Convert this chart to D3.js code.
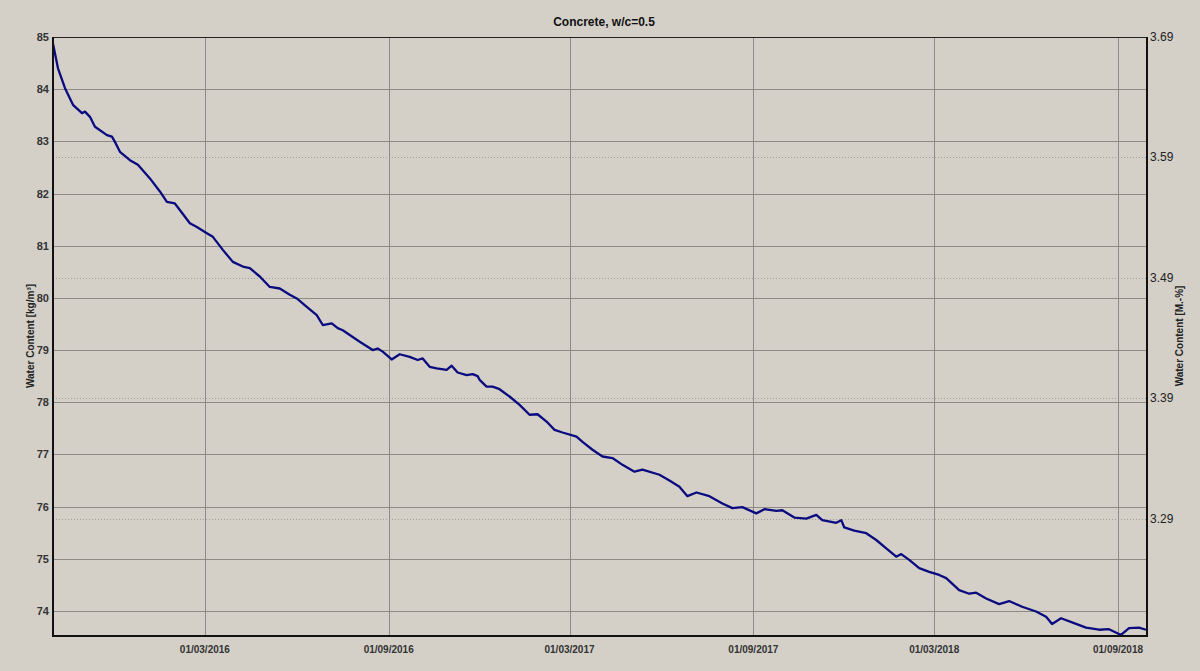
<!DOCTYPE html>
<html>
<head>
<meta charset="utf-8">
<script src="https://cdn.jsdelivr.net/npm/d3@7/dist/d3.min.js"></script>
<style>
  body { margin: 0; background: #d4d0c8; }
  svg { display: block; }
</style>
</head>
<body>
<div id="chart"></div>
<script>
var dates = [
  "2015-10-01","2015-10-06","2015-10-13","2015-10-21","2015-10-30","2015-11-02","2015-11-07","2015-11-12",
  "2015-11-24","2015-11-29","2015-12-02","2015-12-07","2015-12-17","2015-12-25","2016-01-06","2016-01-16",
  "2016-01-23","2016-01-31","2016-02-15","2016-02-22","2016-03-03","2016-03-09","2016-03-19","2016-03-29",
  "2016-04-08","2016-04-15","2016-04-25","2016-05-05","2016-05-15","2016-05-25","2016-06-01","2016-06-11",
  "2016-06-21","2016-06-27","2016-07-06","2016-07-12","2016-07-17","2016-08-03","2016-08-16","2016-08-21",
  "2016-08-26","2016-09-04","2016-09-12","2016-09-22","2016-09-30","2016-10-05","2016-10-12","2016-10-19",
  "2016-10-29","2016-11-03","2016-11-09","2016-11-18","2016-11-24","2016-11-29","2016-12-01","2016-12-08",
  "2016-12-14","2016-12-21","2016-12-31","2017-01-10","2017-01-20","2017-01-28","2017-02-06","2017-02-14",
  "2017-02-22","2017-03-08","2017-03-14","2017-03-24","2017-04-03","2017-04-13","2017-04-23","2017-05-05",
  "2017-05-13","2017-05-30","2017-06-09","2017-06-19","2017-06-27","2017-07-06","2017-07-19","2017-08-01",
  "2017-08-11","2017-08-21","2017-09-04","2017-09-12","2017-09-24","2017-09-30","2017-10-12","2017-10-24",
  "2017-11-03","2017-11-09","2017-11-23","2017-11-28","2017-12-01","2017-12-11","2017-12-23","2018-01-02",
  "2018-01-12","2018-01-22","2018-01-27","2018-02-04","2018-02-14","2018-02-24","2018-03-06","2018-03-13",
  "2018-03-26","2018-04-05","2018-04-12","2018-04-22","2018-05-05","2018-05-15","2018-05-28","2018-06-11",
  "2018-06-21","2018-06-27","2018-07-06","2018-07-17","2018-07-31","2018-08-13","2018-08-23","2018-09-04",
  "2018-09-12","2018-09-22","2018-09-29"
]

// water content, kg/m3
var water = [
  84.87,84.40,84.02,83.70,83.54,83.57,83.47,83.28,
  83.12,83.09,82.99,82.80,82.64,82.55,82.29,82.04,
  81.84,81.81,81.43,81.36,81.24,81.17,80.92,80.69,
  80.60,80.57,80.41,80.21,80.18,80.06,79.99,79.83,
  79.67,79.48,79.51,79.42,79.38,79.16,79.00,79.03,
  78.97,78.82,78.92,78.87,78.81,78.84,78.68,78.65,
  78.62,78.70,78.57,78.52,78.54,78.50,78.43,78.30,
  78.30,78.25,78.11,77.95,77.76,77.77,77.63,77.47,
  77.42,77.34,77.24,77.09,76.96,76.93,76.80,76.67,
  76.71,76.61,76.50,76.38,76.20,76.27,76.20,76.06,
  75.97,75.99,75.87,75.95,75.92,75.93,75.79,75.77,
  75.84,75.74,75.69,75.74,75.60,75.54,75.49,75.36,
  75.20,75.04,75.09,74.98,74.82,74.75,74.69,74.63,
  74.40,74.33,74.35,74.24,74.13,74.19,74.08,73.99,
  73.89,73.75,73.86,73.78,73.68,73.64,73.65,73.54,
  73.67,73.68,73.64
]

var leftTicks = [74, 75, 76, 77, 78, 79, 80, 81, 82, 83, 84, 85]
var rightTicks = [3.29, 3.39, 3.49, 3.59, 3.69]
var xTicks = ["2016-03-01", "2016-09-01", "2017-03-01", "2017-09-01", "2018-03-01", "2018-09-01"]

var title = "Concrete, w/c=0.5"
var leftLabel = "Water Content [kg/m\u00b3]"
var rightLabel = "Water Content [M.-%]"

var width = 1200, height = 671
var margin = {top: 37, right: 53, bottom: 35, left: 53}
var parse = d3.timeParse("%Y-%m-%d")

var data = dates.map(function(d, i) { return {date: parse(d), v: water[i]} })

var svg = d3.select("#chart").append("svg")
    .attr("width", width)
    .attr("height", height)
    .style("font-family", "Arial, 'Liberation Sans', sans-serif")

svg.append("rect")
  .attr("width", width).attr("height", height)
  .attr("fill", "#d4d0c8")

var x = d3.scaleTime()
  .domain([parse("2015-10-01"), parse("2018-09-30")])
  .range([margin.left, width - margin.right])

var y = d3.scaleLinear()
  .domain([73.52, 85])
  .range([height - margin.bottom, margin.top])

var y2 = d3.scaleLinear()
  .domain([3.1925, 3.69])
  .range([height - margin.bottom, margin.top])

var x0 = margin.left, x1 = width - margin.right
var yb = height - margin.bottom, yt = margin.top

// dotted grid from right axis
svg.append("g").selectAll("line")
  .data(rightTicks)
  .enter().append("line")
  .attr("x1", x0).attr("x2", x1)
  .attr("y1", function(d) { return Math.round(y2(d)) + 0.5 })
  .attr("y2", function(d) { return Math.round(y2(d)) + 0.5 })
  .attr("stroke", "#a19e98")
  .attr("stroke-dasharray", "1,2")

// solid grid
svg.append("g").selectAll("line")
  .data(leftTicks)
  .enter().append("line")
  .attr("x1", x0).attr("x2", x1)
  .attr("y1", function(d) { return Math.round(y(d)) + 0.5 })
  .attr("y2", function(d) { return Math.round(y(d)) + 0.5 })
  .attr("stroke", "#8e8b86")

svg.append("g").selectAll("line")
  .data(xTicks)
  .enter().append("line")
  .attr("x1", function(d) { return Math.round(x(parse(d))) + 0.5 })
  .attr("x2", function(d) { return Math.round(x(parse(d))) + 0.5 })
  .attr("y1", yt).attr("y2", yb)
  .attr("stroke", "#8e8b86")

// line
var line = d3.line()
  .x(function(d) { return x(d.date) })
  .y(function(d) { return y(d.v) })

svg.append("path")
  .datum(data)
  .attr("d", line)
  .attr("fill", "none")
  .attr("stroke", "#0b0b80")
  .attr("stroke-width", 2.3)
  .attr("stroke-linejoin", "round")

// frame
svg.append("line").attr("x1", x0).attr("x2", x1).attr("y1", yt + 0.5).attr("y2", yt + 0.5)
  .attr("stroke", "#222").attr("stroke-width", 1)
svg.append("line").attr("x1", x0).attr("x2", x0).attr("y1", yt).attr("y2", yb + 1)
  .attr("stroke", "#111").attr("stroke-width", 2)
svg.append("line").attr("x1", x1).attr("x2", x1).attr("y1", yt).attr("y2", yb + 1)
  .attr("stroke", "#111").attr("stroke-width", 2)
svg.append("line").attr("x1", x0).attr("x2", x1).attr("y1", yb).attr("y2", yb)
  .attr("stroke", "#111").attr("stroke-width", 2)

// axes tick labels
svg.append("g").selectAll("text")
  .data(leftTicks)
  .enter().append("text")
  .attr("x", x0 - 4)
  .attr("y", function(d) { return y(d) + 4 })
  .attr("text-anchor", "end")
  .style("font-size", "11px")
  .style("font-weight", "bold")
  .attr("fill", "#333")
  .text(function(d) { return d })

svg.append("g").selectAll("text")
  .data(rightTicks)
  .enter().append("text")
  .attr("x", x1 + 3)
  .attr("y", function(d) { return y2(d) + 4 })
  .attr("text-anchor", "start")
  .style("font-size", "12px")
  .attr("fill", "#222")
  .text(function(d) { return d3.format(".2f")(d) })

svg.append("g").selectAll("text")
  .data(xTicks)
  .enter().append("text")
  .attr("x", function(d) { return x(parse(d)) })
  .attr("y", yb + 17)
  .attr("text-anchor", "middle")
  .style("font-size", "10px")
  .style("font-weight", "bold")
  .attr("fill", "#333")
  .text(function(d) { return d3.timeFormat("%d/%m/%Y")(parse(d)) })

// titles
svg.append("text")
  .attr("x", (x0 + x1) / 2 + 4)
  .attr("y", 26)
  .attr("text-anchor", "middle")
  .style("font-size", "12px")
  .style("font-weight", "bold")
  .attr("fill", "#111")
  .text(title)

svg.append("text")
  .attr("transform", "translate(34," + 336 + ") rotate(-90)")
  .attr("text-anchor", "middle")
  .style("font-size", "10px")
  .style("font-weight", "bold")
  .attr("fill", "#222")
  .text(leftLabel)

svg.append("text")
  .attr("transform", "translate(1183," + 336 + ") rotate(-90)")
  .attr("text-anchor", "middle")
  .style("font-size", "10px")
  .style("font-weight", "bold")
  .attr("fill", "#222")
  .text(rightLabel)
</script>
</body>
</html>
